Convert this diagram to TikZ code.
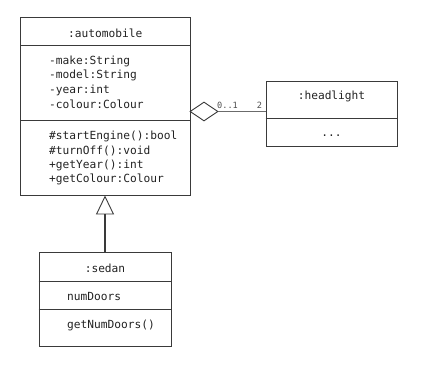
\documentclass[tikz,border=0pt]{standalone}
\usepackage{fontspec}
\setmonofont{DejaVu Sans Mono}
\usetikzlibrary{shapes.geometric,arrows.meta}
\definecolor{ln}{HTML}{3A3A3A}
\definecolor{tx}{HTML}{222222}
\begin{document}
\begin{tikzpicture}[x=1pt,y=-1pt,
  box/.style={draw=ln,line width=0.9pt,rectangle,inner sep=0pt},
  txt/.style={inner sep=0pt,text=tx,font=\ttfamily\fontsize{11.2}{12}\selectfont},
  lt/.style={txt,anchor=west},
  ml/.style={inner sep=0pt,text=tx!80,font=\ttfamily\fontsize{8.6}{9}\selectfont},
  cline/.style={draw=ln,line width=0.9pt}]
\useasboundingbox (0,0) rectangle (437,388);
% automobile
\node[box,minimum width=169.5pt,minimum height=178pt] (auto) at (105.25,106) {};
\draw[cline] (auto.west |- 0,45) -- (auto.east |- 0,45);
\draw[cline] (auto.west |- 0,120) -- (auto.east |- 0,120);
\node[txt] (autot) at (105.25,33) {:automobile};
\node[lt] (a1) at (49,61) {-make:String};
\node[lt] (a2) at (49,75.5) {-model:String};
\node[lt] (a3) at (49,90) {-year:int};
\node[lt] (a4) at (49,104.5) {-colour:Colour};
\node[lt] (m1) at (49,136) {\#startEngine():bool};
\node[lt] (m2) at (49,150.5) {\#turnOff():void};
\node[lt] (m3) at (49,165) {+getYear():int};
\node[lt] (m4) at (49,179.5) {+getColour:Colour};
% headlight
\node[box,minimum width=131pt,minimum height=65.5pt] (head) at (331.5,113.75) {};
\draw[cline] (head.west |- 0,118) -- (head.east |- 0,118);
\node[txt] (headt) at (331.5,96) {:headlight};
\node[txt] (hdots) at (331.5,136) {...};
% sedan
\node[box,minimum width=132pt,minimum height=94pt] (sedan) at (105,299) {};
\draw[cline] (sedan.west |- 0,281) -- (sedan.east |- 0,281);
\draw[cline] (sedan.west |- 0,309) -- (sedan.east |- 0,309);
\node[txt] (sedant) at (105,268) {:sedan};
\node[lt] (s1) at (67,296.5) {numDoors};
\node[lt] (s2) at (67,325) {getNumDoors()};
% aggregation
\node[diamond,draw=ln,line width=0.9pt,minimum width=28pt,minimum height=19pt,inner sep=0pt,fill=white] (dia) at (204,111.5) {};
\draw[draw=ln!75,line width=1.5pt] (dia.east) -- (dia.east -| head.west);
\node[ml,anchor=south west] (l01) at (217,109) {0..1};
\node[ml,anchor=south] (l2) at (259.5,109) {2};
% inheritance
\draw[ln,line width=1.3pt,-{Triangle[open,length=19pt,width=18pt,line width=0.9pt]}] (sedan.north) -- (sedan.north |- auto.south);
\end{tikzpicture}
\end{document}
